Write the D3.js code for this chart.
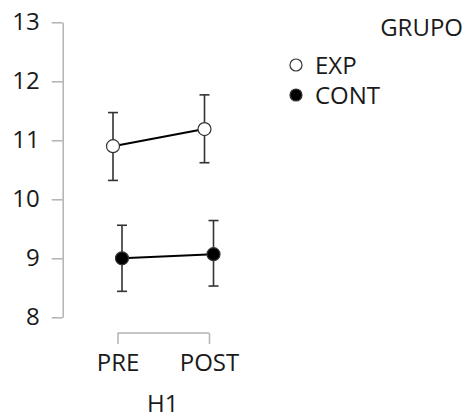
<!DOCTYPE html>
<html>
<head>
<meta charset="utf-8">
<script src="https://cdn.jsdelivr.net/npm/d3@7"></script>
<style>
  html, body { margin: 0; padding: 0; background: #fff; }
  svg { display: block; }
  text { font-family: "Open Sans", sans-serif; fill: #1a1a1a; }
</style>
</head>
<body>
<svg id="chart" width="466" height="419"></svg>
<script>
// Data
const times = ["PRE", "POST"];
const groups = ["EXP", "CONT"];
const expMean = [10.90, 11.19];
const expLower = [10.32, 10.62];
const expUpper = [11.47, 11.77];
const contMean = [9.00, 9.07];
const contLower = [8.44, 8.53];
const contUpper = [9.56, 9.64];
const yTicks = [8, 9, 10, 11, 12, 13];
const xTitle = "H1";
const legendTitle = "GRUPO";

const svg = d3.select("#chart");
const FS = 24;

const y = d3.scaleLinear().domain([8, 13]).range([317.3, 22.3]);
const x = d3.scalePoint().domain(times).range([117.5, 209]);
const dodge = d3.scalePoint().domain(groups).range([-4.5, 4.5]);

const axisColor = "#b3b3b3";

// Y axis
const yAxis = svg.append("g")
  .attr("transform", "translate(62.7,0)")
  .call(d3.axisLeft(y).tickValues(yTicks).tickFormat(d3.format("d"))
        .tickSize(11).tickSizeOuter(0).tickPadding(12));
yAxis.select(".domain").attr("stroke", axisColor).attr("stroke-width", 1.5);
yAxis.selectAll(".tick line").attr("stroke", axisColor).attr("stroke-width", 1.5);
yAxis.selectAll(".tick text")
  .attr("font-size", FS).attr("font-family", "Open Sans, sans-serif").attr("fill", "#1a1a1a");

// X axis (bracket style)
const xAxis = svg.append("g")
  .attr("transform", "translate(0,333)")
  .call(d3.axisBottom(x).tickSize(11).tickSizeOuter(0).tickPadding(10));
xAxis.select(".domain").remove();
xAxis.selectAll(".tick line").attr("stroke", axisColor).attr("stroke-width", 1.5);
xAxis.append("line")
  .attr("x1", x("PRE")).attr("x2", x("POST"))
  .attr("y1", 0).attr("y2", 0)
  .attr("stroke", axisColor).attr("stroke-width", 1.5);
xAxis.selectAll(".tick text")
  .attr("font-size", FS).attr("font-family", "Open Sans, sans-serif").attr("fill", "#1a1a1a");

svg.append("text")
  .attr("x", (x("PRE") + x("POST")) / 2 - 0.5)
  .attr("y", 412)
  .attr("text-anchor", "middle")
  .attr("font-size", FS)
  .text(xTitle);

// Series
const series = [
  { name: "EXP", mean: expMean, lo: expLower, hi: expUpper, fill: "#ffffff" },
  { name: "CONT", mean: contMean, lo: contLower, hi: contUpper, fill: "#000000" }
];

const line = d3.line()
  .x((d, i) => x(times[i]) + d.off)
  .y(d => y(d.v));

series.forEach(s => {
  const off = dodge(s.name);
  const g = svg.append("g");
  times.forEach((t, i) => {
    const cx = x(t) + off;
    g.append("line")
      .attr("x1", cx).attr("x2", cx)
      .attr("y1", y(s.lo[i])).attr("y2", y(s.hi[i]))
      .attr("stroke", "#333").attr("stroke-width", 1.6);
    [s.lo[i], s.hi[i]].forEach(v => {
      g.append("line")
        .attr("x1", cx - 5).attr("x2", cx + 5)
        .attr("y1", y(v)).attr("y2", y(v))
        .attr("stroke", "#333").attr("stroke-width", 1.6);
    });
  });
  g.append("path")
    .datum(s.mean.map(v => ({ v, off })))
    .attr("d", line)
    .attr("fill", "none")
    .attr("stroke", "#000")
    .attr("stroke-width", 2);
  g.selectAll("circle")
    .data(s.mean)
    .join("circle")
    .attr("cx", (d, i) => x(times[i]) + off)
    .attr("cy", d => y(d))
    .attr("r", 6.5)
    .attr("fill", s.fill)
    .attr("stroke", "#333")
    .attr("stroke-width", 1.2);
});

// Legend
svg.append("text")
  .attr("x", 463)
  .attr("y", 36)
  .attr("text-anchor", "end")
  .attr("font-size", FS)
  .text(legendTitle);

const legend = svg.append("g");
series.forEach((s, i) => {
  const ly = 65 + i * 30;
  legend.append("circle")
    .attr("cx", 296).attr("cy", ly).attr("r", 6)
    .attr("fill", s.fill).attr("stroke", "#333").attr("stroke-width", 1.2);
  legend.append("text")
    .attr("x", 315).attr("y", ly + 9)
    .attr("font-size", FS)
    .text(s.name);
});
</script>
</body>
</html>
